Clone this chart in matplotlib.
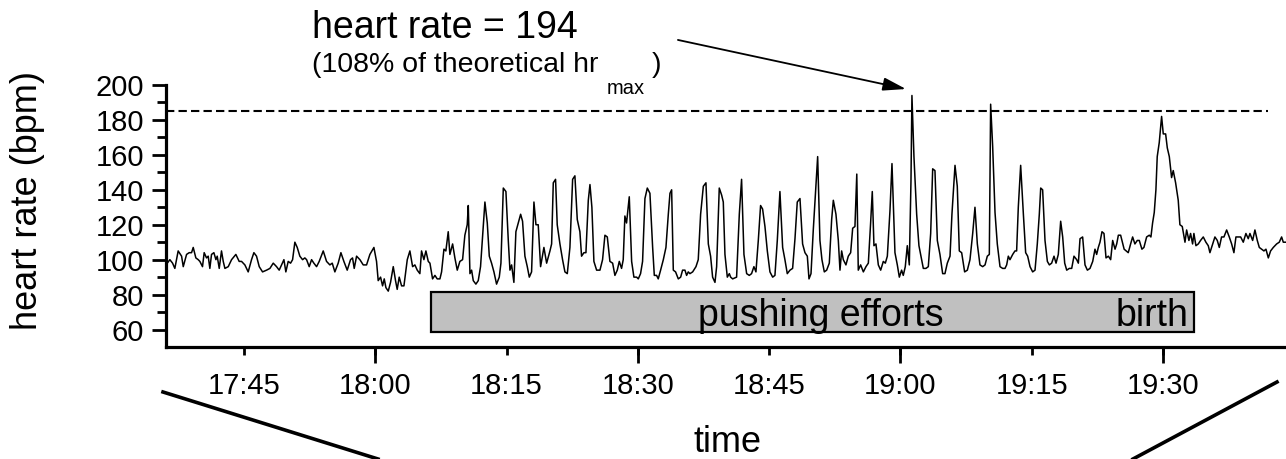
import matplotlib
matplotlib.use('Agg')
import matplotlib.pyplot as plt
from matplotlib.lines import Line2D
from matplotlib.patches import Rectangle

plt.rcParams['font.family'] = ['Liberation Sans', 'DejaVu Sans']

# ---------------- data (time in minutes after 17:00, heart rate in bpm) ----------------
time_min = [
    36.10, 36.54, 36.85, 37.11, 37.49, 37.88, 38.07, 38.45, 38.75, 39.02, 39.21, 39.51, 39.78, 39.97,
    40.27, 40.46, 40.73, 40.92, 41.11, 41.30, 41.57, 41.80, 41.95, 42.18, 42.44, 42.64, 42.83, 43.21,
    43.59, 44.08, 44.46, 44.73, 45.11, 45.49, 45.87, 46.14, 46.44, 46.75, 47.13, 47.59, 47.97, 48.35,
    48.73, 49.03, 49.30, 49.57, 49.79, 50.06, 50.33, 50.56, 50.82, 51.09, 51.39, 51.70, 51.96, 52.16,
    52.46, 52.73, 52.99, 53.30, 53.60,
    54.06, 54.44, 54.82, 55.09, 55.39, 55.77, 56.08, 56.42, 56.80, 57.18, 57.41, 57.60, 57.87, 58.25,
    58.63, 59.01, 59.39, 59.85, 60.15, 60.34, 60.61, 60.84, 61.03, 61.22, 61.49, 61.75, 62.06, 62.32,
    62.51, 62.74, 63.01, 63.28, 63.66, 63.96, 64.27, 64.53, 64.80, 65.10, 65.29, 65.56, 65.79, 66.06,
    66.25, 66.55, 66.82, 67.08, 67.39, 67.58, 67.85, 68.07, 68.34, 68.53, 68.84, 69.10, 69.37, 69.67,
    69.98, 70.24, 70.51, 70.63, 70.82, 71.01, 71.20, 71.50, 71.77, 72.03, 72.26, 72.53, 72.80,
    73.03, 73.29, 73.56, 73.86, 74.17, 74.36, 74.63, 74.93, 75.20, 75.39, 75.58, 75.84, 76.07, 76.34,
    76.61, 76.83, 77.10, 77.37, 77.60, 77.86, 78.13, 78.36, 78.62, 78.89, 79.27, 79.58, 79.96, 80.15,
    80.34, 80.60, 80.79, 81.10, 81.40, 81.67, 81.94, 82.24, 82.55, 82.81, 83.08, 83.38, 83.57, 83.84,
    84.07, 84.34, 84.53, 84.75, 84.98, 85.29, 85.67, 85.97, 86.24, 86.51, 86.81, 87.12, 87.38, 87.65,
    87.88, 88.14, 88.33, 88.52, 88.71, 89.02, 89.29, 89.55, 89.86, 90.05, 90.31, 90.54, 90.81, 91.08,
    91.38, 91.69, 91.88, 92.14, 92.33, 92.60, 92.91, 93.21, 93.48, 93.67, 93.86, 94.05, 94.31, 94.62,
    94.89, 95.11, 95.38, 95.57, 95.76, 95.95, 96.26, 96.64, 96.90, 97.17, 97.48, 97.78, 98.05, 98.31,
    98.54, 98.81, 99.00, 99.30, 99.57, 99.76, 99.95, 100.22, 100.45, 100.60, 100.83, 101.28, 101.59,
    101.85, 102.12, 102.43, 102.73, 102.99, 103.26, 103.49, 103.76, 104.02, 104.25, 104.52, 104.79,
    105.09, 105.40, 105.66, 105.93, 106.23, 106.54, 106.80, 107.07, 107.38, 107.68, 107.95, 108.21,
    108.52, 108.82, 109.09, 109.36, 109.55, 109.78, 110.04, 110.31, 110.54, 110.80, 111.03, 111.30,
    111.57, 111.87, 112.14, 112.33, 112.63, 112.90, 113.09, 113.28, 113.47, 113.77, 114.04, 114.31,
    114.54, 114.80, 115.01, 115.18, 115.45, 115.76, 116.06, 116.33, 116.59, 116.78, 116.97, 117.20,
    117.47, 117.74, 118.04, 118.27, 118.50, 118.80, 119.03, 119.37, 119.64, 119.87, 120.13, 120.32,
    120.55, 120.78, 121.01, 121.20, 121.31, 121.54, 121.85, 122.11, 122.30, 122.61, 122.91, 123.18,
    123.45, 123.68, 123.94, 124.21, 124.51, 124.82, 125.08, 125.35, 125.66, 125.88, 126.23, 126.49,
    126.72, 126.99, 127.33, 127.64, 127.94, 128.25, 128.51, 128.78, 129.08, 129.39, 129.66, 129.92,
    130.15, 130.30, 130.53, 130.80, 131.06, 131.37, 131.67, 131.94, 132.13, 132.32, 132.51, 132.82,
    133.08, 133.27, 133.46, 133.73, 134.04, 134.30, 134.53, 134.80, 135.10, 135.37, 135.63, 135.86,
    136.02, 136.24, 136.51, 136.78, 137.01, 137.27, 137.54, 137.77, 138.03, 138.30, 138.53, 138.76,
    138.99, 139.29, 139.56, 139.82, 140.13, 140.32, 140.51, 140.81, 141.08, 141.35, 141.65, 141.96,
    142.22, 142.41, 142.60, 142.79, 143.02, 143.25, 143.48, 143.75, 144.01, 144.24, 144.51, 144.70,
    144.89, 145.15, 145.55, 146.02, 146.29, 146.52, 146.78, 147.05, 147.28, 147.58, 147.81, 148.12,
    148.42, 148.61, 148.80, 148.99, 149.18, 149.33, 149.56, 149.83, 150.02, 150.29, 150.48, 150.71,
    150.97, 151.16, 151.43, 151.73, 151.92, 152.19, 152.50, 152.69, 152.95, 153.14, 153.37, 153.52,
    153.75, 154.02, 154.28, 154.59, 154.89, 155.16, 155.35, 155.66, 155.92, 156.19, 156.42, 156.68,
    156.95, 157.26, 157.56, 157.83, 158.09, 158.32, 158.59, 158.86, 159.16, 159.46, 159.73, 159.92,
    160.23, 160.49, 160.76, 160.99, 161.26, 161.52, 161.75, 162.02, 162.28, 162.59, 162.97, 163.27,
    163.54, 163.73, 164.03,
]
heart_rate = [
    97, 100, 98, 95, 105, 102, 96, 103, 104, 104, 107, 101, 100, 99,
    96, 104, 101, 102, 95, 103, 104, 100, 102, 95, 105, 99, 95, 96,
    100, 103, 99, 99, 97, 93, 100, 104, 102, 96, 93, 94, 95, 98,
    96, 94, 97, 100, 93, 99, 98, 100, 110, 107, 102, 100, 101, 100,
    96, 100, 98, 96, 99,
    105, 99, 97, 98, 93, 98, 104, 99, 94, 100, 101, 95, 102, 100,
    97, 97, 103, 107, 99, 88, 90, 85, 89, 84, 82, 87, 96, 88,
    83, 90, 85, 85, 100, 105, 96, 97, 94, 92, 105, 100, 105, 99,
    98, 89, 91, 89, 89, 93, 106, 105, 116, 103, 109, 101, 94, 99,
    100, 114, 120, 131, 92, 94, 88, 86, 88, 96, 113, 133, 121,
    102, 98, 93, 86, 90, 98, 141, 139, 111, 94, 97, 87, 116, 121,
    126, 122, 102, 96, 90, 93, 133, 120, 120, 96, 107, 98, 105, 109,
    144, 146, 120, 109, 100, 93, 92, 107, 146, 148, 123, 116, 102, 104,
    104, 134, 143, 130, 99, 94, 94, 100, 114, 113, 99, 98, 91, 94,
    99, 95, 100, 125, 121, 136, 99, 90, 90, 89, 92, 99, 135, 141,
    138, 107, 91, 91, 89, 94, 100, 107, 126, 138, 140, 94, 93, 89,
    90, 94, 94, 91, 93, 92, 93, 96, 100, 126, 142, 144, 109, 102,
    90, 87, 96, 141, 137, 133, 103, 90, 92, 90, 89, 90, 126,
    146, 103, 92, 91, 92, 96, 93, 111, 131, 129, 119, 105,
    93, 90, 91, 111, 139, 107, 100, 92, 94, 95, 112, 133,
    135, 109, 104, 102, 89, 92, 117, 140, 159, 111, 100, 93,
    94, 98, 123, 134, 126, 111, 94, 105, 100, 97, 102, 104,
    118, 119, 149, 94, 97, 93, 96, 98, 121, 139, 108, 109,
    97, 94, 99, 98, 102, 128, 155, 104, 97, 90, 94, 91,
    96, 108, 97, 145, 194, 159, 126, 108, 103, 95, 95, 96,
    115, 152, 151, 111, 103, 92, 92, 98, 102, 126, 154, 142,
    105, 104, 93, 94, 100, 115, 130, 109, 97, 96, 97, 102,
    103, 189, 165, 127, 109, 96, 95, 95, 97, 102, 100, 103,
    105, 105, 130, 154, 126, 104, 102, 96, 93, 94, 109, 126,
    141, 140, 111, 99, 97, 98, 102, 98, 103, 122, 113, 98,
    94, 95, 95, 102, 100, 98, 112, 113, 97, 94, 95, 99,
    106, 103, 107, 110, 116, 115, 101, 102, 100, 111, 106, 109,
    114, 114, 106, 104, 109, 113, 109, 111, 111, 106, 107, 113,
    114, 113, 121, 127, 140, 159, 167, 182, 172, 172, 164, 159,
    147, 151, 144, 134, 120, 119, 110, 117, 111, 115, 109, 115,
    108, 109, 111, 113, 110, 108, 104, 109, 113, 111, 107, 113,
    113, 117, 113, 109, 104, 113, 113, 113, 110, 115, 112, 115,
    111, 117, 111, 107, 106, 105, 106, 101, 105, 107, 109, 110,
    113, 110, 110,
]

tick_minutes = [45, 60, 75, 90, 105, 120, 135, 150]
tick_labels = ['17:45', '18:00', '18:15', '18:30', '18:45', '19:00', '19:15', '19:30']
long_tick_minutes = [60, 90, 120, 150]
y_major = [60, 80, 100, 120, 140, 160, 180, 200]
y_minor = [70, 90, 110, 130, 150, 170, 190]
x_range = (36.1, 164.04)
y_range = (50, 200)

hr_threshold = 185
threshold_end = 162.0
peak_time, peak_hr = 121.31, 194
pct_of_max = 108
pushing_start, pushing_end = 66.4, 153.5
box_low, box_high = 58.4, 81.3

# ---------------- figure ----------------
W, H = 1286, 459
fig = plt.figure(figsize=(W / 100, H / 100), dpi=100)
ax = fig.add_axes([166 / W, 1 - 347 / H, (1286 - 166) / W, (347 - 85) / H])

ax.plot(time_min, heart_rate, color='black', lw=1.1, zorder=3)
ax.plot([x_range[0], threshold_end], [hr_threshold, hr_threshold], color='black',
        lw=1.5, ls=(0, (4.0, 2.0)), zorder=2)
ax.add_patch(Rectangle((pushing_start, box_low), pushing_end - pushing_start, box_high - box_low,
                       facecolor='#c0c0c0', edgecolor='black', lw=1.6, zorder=1))
ax.text(96.9, 62.3, 'pushing efforts', fontsize=27, ha='left', va='baseline', zorder=4)
ax.text(152.9, 62.3, 'birth', fontsize=27, ha='right', va='baseline', zorder=4)

ax.set_xlim(*x_range)
ax.set_ylim(*y_range)
for s in ['top', 'right']:
    ax.spines[s].set_visible(False)
for s in ['left', 'bottom']:
    ax.spines[s].set_linewidth(2.3)

ax.set_yticks(y_major)
ax.set_yticks(y_minor, minor=True)
ax.tick_params(axis='y', which='major', length=10, width=2.0, labelsize=21, pad=6, direction='out')
ax.tick_params(axis='y', which='minor', length=6.5, width=2.0, direction='out')

ax.xaxis.remove_overlapping_locs = False
ax.set_xticks(tick_minutes)
ax.set_xticklabels(tick_labels)
ax.set_xticks(long_tick_minutes, minor=True)
ax.tick_params(axis='x', which='major', length=6, width=2.0, labelsize=21, pad=12, direction='out')
ax.tick_params(axis='x', which='minor', length=11.5, width=2.0, direction='out')

# annotation arrow
ax.annotate('', xy=(120.63, 197.7), xytext=(94.58, 225.8), xycoords='data',
            arrowprops=dict(arrowstyle='-|>,head_length=0.7,head_width=0.2', color='black',
                            lw=1.3, mutation_scale=20, shrinkA=0, shrinkB=0),
            annotation_clip=False)

def fx(px):
    return px / W

def fy(py):
    return 1 - py / H

fig.text(fx(312), fy(38), 'heart rate = %d' % peak_hr, fontsize=27, ha='left', va='baseline')
fig.text(fx(312), fy(72), '(%d%% of theoretical hr' % pct_of_max, fontsize=20.5, ha='left', va='baseline')
fig.text(fx(607), fy(94), 'max', fontsize=14.5, ha='left', va='baseline')
fig.text(fx(652), fy(72), ')', fontsize=20.5, ha='left', va='baseline')

fig.text(fx(28), fy(201), 'heart rate (bpm)', fontsize=26, rotation=90, ha='center', va='center')
fig.text(fx(727), fy(452), 'time', fontsize=26, ha='center', va='baseline')

# zoom-connector lines below the axis
fig.add_artist(Line2D([fx(163), fx(378)], [fy(392), fy(459)], color='black', lw=2.6))
fig.add_artist(Line2D([fx(1277), fx(1133)], [fy(382), fy(459)], color='black', lw=2.6))

fig.savefig('out.png', dpi=100)
